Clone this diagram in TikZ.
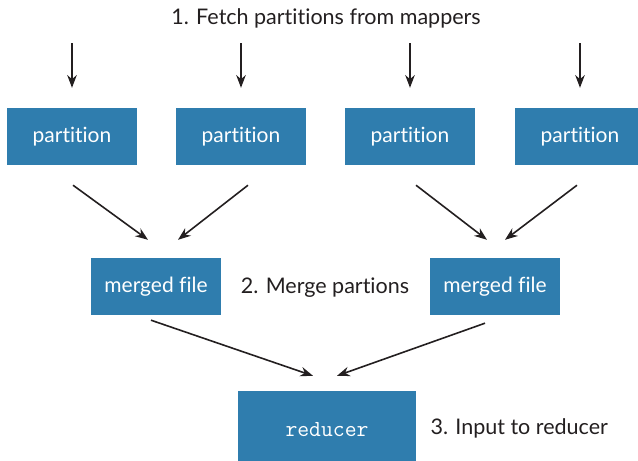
\documentclass[tikz,border=0pt]{standalone}
\usepackage{fontspec}
\setmainfont[Ligatures={NoCommon,NoDiscretionary}]{Lato}
\usepackage{tikz}
\usetikzlibrary{arrows.meta}
\definecolor{boxblue}{RGB}{47,125,174}
\definecolor{ink}{RGB}{35,31,32}
\tikzstyle{file} = [fill=boxblue, text=white, minimum width=130pt, minimum height=57pt, inner sep=0pt, font=\fontsize{21}{24}\selectfont]
\tikzstyle{step label} = [text=ink, font=\fontsize{21.5}{24}\selectfont]
\tikzstyle{arrow} = [ink, line width=1.6pt, -{Stealth[scale=1.25]}]

\begin{document}
\begin{tikzpicture}[x=1pt, y=-1pt]
	\useasboundingbox (0,0) rectangle (638,461);
	\node[step label](fetch) at (326,18){1. Fetch partitions from mappers};
	\coordinate(in1) at (72,43);
	\coordinate(in2) at (241,43);
	\coordinate(in3) at (410,43);
	\coordinate(in4) at (580,43);
	\node[file](p1) at (72,136.5){partition};
	\node[file](p2) at (241,136.5){partition};
	\node[file](p3) at (410,136.5){partition};
	\node[file](p4) at (580,136.5){partition};
	\node[file](m1) at (156,286.5){merged file};
	\node[file](m2) at (495,286.5){merged file};
	\node[step label](merge) at (325,288){2. Merge partions};
	\node[file, minimum width=178pt, minimum height=78pt, font=\fontsize{23}{26}\ttfamily](red) at (327,430){reducer};
	\node[step label, anchor=west](input) at (427,428){3. Input to reducer};
	\draw[arrow, shorten >=20pt](in1) -- (p1);
	\draw[arrow, shorten >=20pt](in2) -- (p2);
	\draw[arrow, shorten >=20pt](in3) -- (p3);
	\draw[arrow, shorten >=20pt](in4) -- (p4);
	\draw[arrow]([xshift=1pt, yshift=-20pt]p1.south) -- ([xshift=-8pt, yshift=18pt]m1.north);
	\draw[arrow]([xshift=7pt, yshift=-20pt]p2.south) -- ([xshift=22pt, yshift=18pt]m1.north);
	\draw[arrow]([xshift=6pt, yshift=-20pt]p3.south) -- ([xshift=-8pt, yshift=18pt]m2.north);
	\draw[arrow]([xshift=-3pt, yshift=-20pt]p4.south) -- ([xshift=10pt, yshift=18pt]m2.north);
	\draw[arrow]([xshift=-5pt, yshift=-5pt]m1.south) -- ([xshift=-14pt, yshift=15pt]red.north);
	\draw[arrow]([xshift=-10pt, yshift=-8pt]m2.south) -- ([xshift=10pt, yshift=15pt]red.north);
\end{tikzpicture}
\end{document}
